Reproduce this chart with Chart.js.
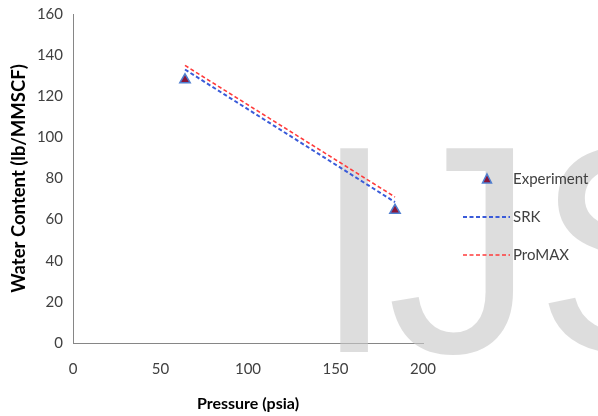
<!DOCTYPE html>
<html><head><meta charset="utf-8">
<script src="https://cdn.jsdelivr.net/npm/chart.js@4.4.0/dist/chart.umd.min.js"></script>
<style>html,body{margin:0;padding:0;background:#fff}#wrap{width:598px;height:416px}</style>
</head><body><div id="wrap"><canvas id="c" width="598" height="416"></canvas></div>
<script>
const experimentX = [64, 184];
const experimentY = [128, 64.5];
const srkX = [64, 184];
const srkY = [133, 68.5];
const promaxX = [64, 184];
const promaxY = [135, 71];
const xTicks = [0, 50, 100, 150, 200];
const yTicks = [0, 20, 40, 60, 80, 100, 120, 140, 160];
const seriesNames = ['Experiment', 'SRK', 'ProMAX'];
const xTitle = 'Pressure (psia)';
const yTitle = 'Water Content (lb/MMSCF)';
const watermark = ['I', 'J', 'S'];

const pts = (xs, ys) => xs.map((x, i) => ({x: x, y: ys[i]}));
const FONT = 'Lato, "Liberation Sans", sans-serif';

const watermarkPlugin = {
  id: 'wm',
  beforeDatasetsDraw(chart) {
    const ctx = chart.ctx;
    ctx.save();
    ctx.fillStyle = 'rgba(200,200,200,0.62)';
    ctx.font = '296px "Liberation Sans", Arial, sans-serif';
    ctx.textBaseline = 'alphabetic';
    const xs = [313, 387, 535];
    watermark.forEach((t, i) => ctx.fillText(t, xs[i], 352));
    ctx.restore();
  }
};

const legendPlugin = {
  id: 'customLegend',
  afterDraw(chart) {
    const ctx = chart.ctx;
    ctx.save();
    ctx.font = '15px ' + FONT;
    ctx.textBaseline = 'middle';
    const ys = [179, 217, 255];
    chart.data.datasets.forEach((ds, i) => {
      const y = ys[i];
      if (ds.showLine === false) {
        const cx = 487, s = 5;
        ctx.beginPath();
        ctx.moveTo(cx, y - s);
        ctx.lineTo(cx + s * 0.9, y + s * 0.8);
        ctx.lineTo(cx - s * 0.9, y + s * 0.8);
        ctx.closePath();
        ctx.fillStyle = ds.pointBackgroundColor;
        ctx.fill();
        ctx.lineWidth = 1.5;
        ctx.strokeStyle = ds.pointBorderColor;
        ctx.stroke();
      } else {
        ctx.beginPath();
        ctx.setLineDash(ds.borderDash);
        ctx.lineWidth = ds.borderWidth;
        ctx.strokeStyle = ds.borderColor;
        ctx.moveTo(463, y);
        ctx.lineTo(510, y);
        ctx.stroke();
        ctx.setLineDash([]);
      }
      ctx.fillStyle = '#404040';
      ctx.fillText(ds.label, 513, y);
    });
    ctx.restore();
  }
};

new Chart(document.getElementById('c'), {
  type: 'scatter',
  data: {
    datasets: [
      {label: seriesNames[0], data: pts(experimentX, experimentY), showLine: false,
       pointStyle: 'triangle', pointRadius: 6, pointBackgroundColor: '#8a1538',
       pointBorderColor: '#4f7fd0', pointBorderWidth: 1.5, borderColor: '#4f7fd0', order: 0},
      {label: seriesNames[1], data: pts(srkX, srkY), showLine: true, pointRadius: 0,
       borderColor: '#3a5bd9', borderWidth: 2, borderDash: [4, 2.5], order: 2},
      {label: seriesNames[2], data: pts(promaxX, promaxY), showLine: true, pointRadius: 0,
       borderColor: '#ff3b3b', borderWidth: 1.6, borderDash: [4, 2.5], order: 1}
    ]
  },
  options: {
    responsive: false, animation: false,
    layout: {padding: {top: 9, right: 175, left: 4, bottom: 0}},
    plugins: {legend: {display: false}, tooltip: {enabled: false}},
    scales: {
      x: {
        type: 'linear', min: 0, max: 200,
        afterBuildTicks: s => { s.ticks = xTicks.map(v => ({value: v})); },
        grid: {display: false, drawTicks: true, tickLength: 5, color: '#868686'},
        border: {display: true, color: '#868686', width: 1},
        ticks: {color: '#404040', font: {family: FONT, size: 15}, padding: 12},
        title: {display: true, text: xTitle, color: '#000', font: {family: FONT, size: 16, weight: 'bold'}, padding: {top: 4, bottom: 3}},
        afterFit: s => { s.height = 73; }
      },
      y: {
        type: 'linear', min: 0, max: 160,
        afterBuildTicks: s => { s.ticks = yTicks.map(v => ({value: v})); },
        grid: {display: false, drawTicks: true, tickLength: 5, color: '#868686'},
        border: {display: true, color: '#868686', width: 1},
        ticks: {color: '#404040', font: {family: FONT, size: 15}, padding: 5},
        title: {display: true, text: yTitle, color: '#000', font: {family: FONT, size: 18.5, weight: 'bold'}, padding: {bottom: 4}},
        afterFit: s => { s.width = 69; }
      }
    }
  },
  plugins: [watermarkPlugin, legendPlugin]
});
</script></body></html>
